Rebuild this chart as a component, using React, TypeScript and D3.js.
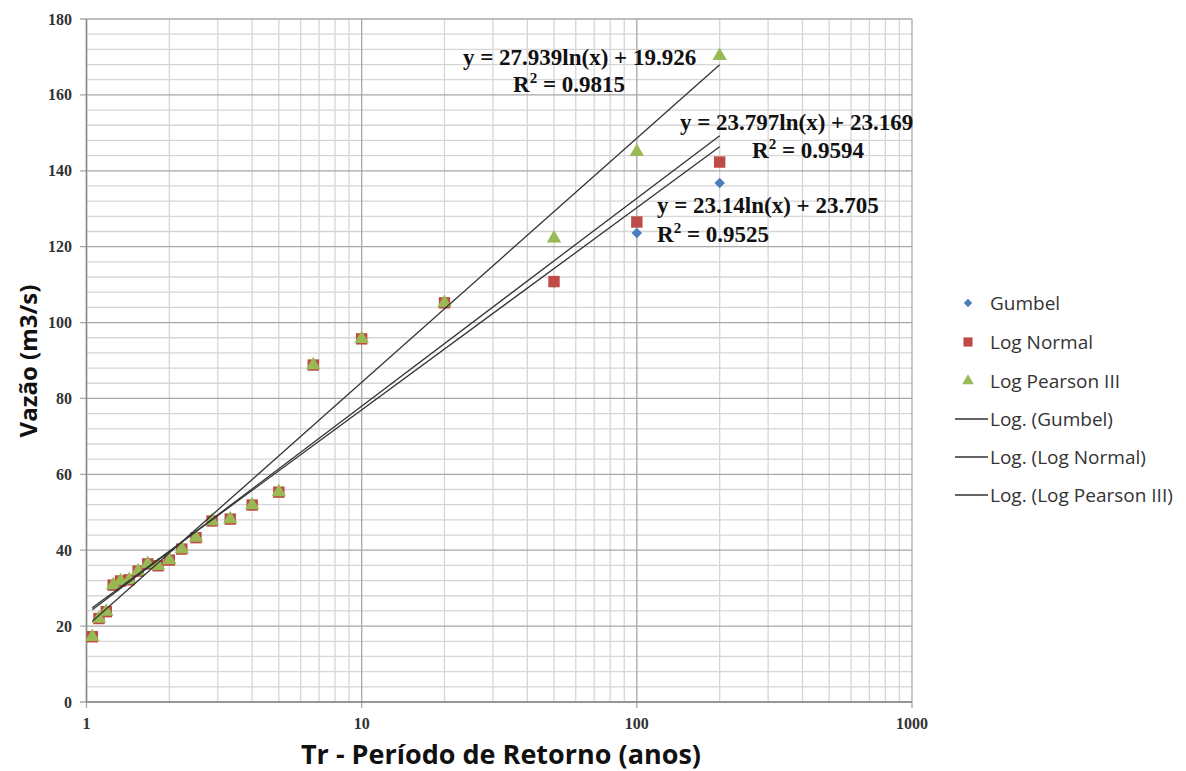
import React from "react";
import * as d3 from "d3";

const returnPeriods = [1.05, 1.11, 1.18, 1.25, 1.33, 1.43, 1.54, 1.67, 1.82, 2, 2.22, 2.5, 2.86, 3.33, 4, 5, 6.67, 10, 20, 50, 100, 200];
const gumbel = [17.2, 22.0, 23.8, 30.8, 31.9, 32.2, 34.5, 36.4, 35.9, 37.4, 40.3, 43.3, 47.7, 48.2, 51.9, 55.3, 88.8, 95.7, 105.2, 110.5, 123.6, 136.8];
const logNormal = [17.2, 22.0, 23.8, 30.8, 31.9, 32.2, 34.5, 36.4, 35.9, 37.4, 40.3, 43.3, 47.7, 48.2, 51.9, 55.3, 88.8, 95.7, 105.2, 110.8, 126.5, 142.3];
const logPearson = [17.2, 22.0, 23.8, 30.8, 31.9, 32.2, 34.5, 36.4, 35.9, 37.4, 40.3, 43.3, 47.7, 48.2, 51.9, 55.3, 88.8, 95.7, 105.2, 122.2, 145.0, 170.3];

const seriesNames = ["Gumbel", "Log Normal", "Log Pearson III"];
const trendSlopes = [23.14, 23.797, 27.939];
const trendIntercepts = [23.705, 23.169, 19.926];
const trendEquations = ["y = 23.14ln(x) + 23.705", "y = 23.797ln(x) + 23.169", "y = 27.939ln(x) + 19.926"];
const trendR2 = ["0.9525", "0.9594", "0.9815"];

const yTicks = [0, 20, 40, 60, 80, 100, 120, 140, 160, 180];
const xTicks = [1, 10, 100, 1000];

const W = 1186;
const H = 771;

export default function App() {
  const x = d3.scaleLog().domain([1, 1000]).range([86.5, 912]);
  const y = d3.scaleLinear().domain([0, 180]).range([702, 19]);

  const minorX: number[] = [];
  for (const dec of [1, 10, 100]) for (let k = 2; k <= 9; k++) minorX.push(dec * k);
  const minorY = d3.range(0, 181, 4).filter((v) => v % 20 !== 0);

  const colors = ["#4a7ebb", "#be4b48", "#98b954"];
  const allSeries = [gumbel, logNormal, logPearson];

  const diamond = d3.symbol().type(d3.symbolDiamond2 || d3.symbolDiamond).size(70)();
  const square = d3.symbol().type(d3.symbolSquare).size(130)();
  const triangle = d3.symbol().type(d3.symbolTriangle).size(90)();
  const shapes = [diamond, square, triangle];

  const xMin = d3.min(returnPeriods) as number;
  const xMax = d3.max(returnPeriods) as number;
  const line = d3
    .line<[number, number]>()
    .x((d) => x(d[0]))
    .y((d) => y(d[1]));

  const labelPos = [
    { eq: [657, 213], r2: [657, 242] },
    { eq: [680, 130], r2: [752, 158] },
    { eq: [463, 65], r2: [513, 92] },
  ];

  const legendX = 968;
  const legendYs = [303, 342, 381, 419, 457, 495];

  return (
    <svg width={W} height={H} style={{ position: "absolute", left: 0, top: 0, background: "#fff" }}>
      <rect width={W} height={H} fill="#fff" />
      {/* minor gridlines */}
      {minorY.map((v) => (
        <line key={"my" + v} x1={86.5} x2={912} y1={y(v)} y2={y(v)} stroke="#d6d6d6" strokeWidth={1.3} />
      ))}
      {minorX.map((v) => (
        <line key={"mx" + v} x1={x(v)} x2={x(v)} y1={19} y2={702} stroke="#d6d6d6" strokeWidth={1.3} />
      ))}
      {/* major gridlines */}
      {yTicks.map((v) => (
        <line key={"gy" + v} x1={80} x2={912} y1={y(v)} y2={y(v)} stroke="#a8a8a8" strokeWidth={1.3} />
      ))}
      {xTicks.map((v) => (
        <line key={"gx" + v} x1={x(v)} x2={x(v)} y1={19} y2={708} stroke="#a8a8a8" strokeWidth={1.3} />
      ))}
      {/* axes */}
      <line x1={86.5} x2={86.5} y1={19} y2={702} stroke="#888" strokeWidth={1.5} />
      <line x1={86.5} x2={912} y1={702} y2={702} stroke="#888" strokeWidth={1.5} />

      {/* tick labels */}
      {yTicks.map((v) => (
        <text key={"ty" + v} x={72} y={y(v) + 5.5} textAnchor="end" fontFamily="Liberation Serif, serif" fontWeight="bold" fontSize={16} fill="#333">
          {v}
        </text>
      ))}
      {xTicks.map((v) => (
        <text key={"tx" + v} x={x(v)} y={729} textAnchor="middle" fontFamily="Liberation Serif, serif" fontWeight="bold" fontSize={16} fill="#333">
          {v}
        </text>
      ))}

      {/* axis titles */}
      <text x={501} y={764} textAnchor="middle" fontFamily="Open Sans, sans-serif" fontWeight="bold" fontSize={27} fill="#111">
        Tr - Período de Retorno (anos)
      </text>
      <text transform={`translate(37,361) rotate(-90)`} textAnchor="middle" fontFamily="Open Sans, sans-serif" fontWeight="bold" fontSize={24} fill="#111">
        Vazão (m3/s)
      </text>

      {/* markers */}
      {allSeries.map((s, si) =>
        s.map((v, i) => (
          <path key={"p" + si + "-" + i} d={shapes[si]} transform={`translate(${x(returnPeriods[i])},${y(v)})`} fill={colors[si]} />
        ))
      )}

      {/* trendlines */}
      {trendSlopes.map((a, i) => {
        const b = trendIntercepts[i];
        const pts: [number, number][] = [xMin, xMax].map((t) => [t, a * Math.log(t) + b]);
        return <path key={"tl" + i} d={line(pts) as string} fill="none" stroke="#333" strokeWidth={1.3} />;
      })}

      {/* equation labels */}
      {trendEquations.map((eq, i) => (
        <g key={"eq" + i} fontFamily="Liberation Serif, serif" fontWeight="bold" fontSize={23} fill="#111">
          <text x={labelPos[i].eq[0]} y={labelPos[i].eq[1]}>{eq}</text>
          <text x={labelPos[i].r2[0]} y={labelPos[i].r2[1]}>
            R<tspan fontSize={15} dy={-9}>2</tspan>
            <tspan dy={9}> = {trendR2[i]}</tspan>
          </text>
        </g>
      ))}

      {/* legend */}
      {seriesNames.map((n, i) => (
        <g key={"lg" + i}>
          <path d={shapes[i]} transform={`translate(${legendX},${legendYs[i]}) scale(0.8)`} fill={colors[i]} />
          <text x={990} y={legendYs[i] + 7} fontFamily="Open Sans, sans-serif" fontSize={19} fill="#333">{n}</text>
        </g>
      ))}
      {seriesNames.map((n, i) => (
        <g key={"lt" + i}>
          <line x1={955} x2={988} y1={legendYs[i + 3]} y2={legendYs[i + 3]} stroke="#333" strokeWidth={1.3} />
          <text x={990} y={legendYs[i + 3] + 7} fontFamily="Open Sans, sans-serif" fontSize={19} fill="#333">Log. ({n})</text>
        </g>
      ))}
    </svg>
  );
}
